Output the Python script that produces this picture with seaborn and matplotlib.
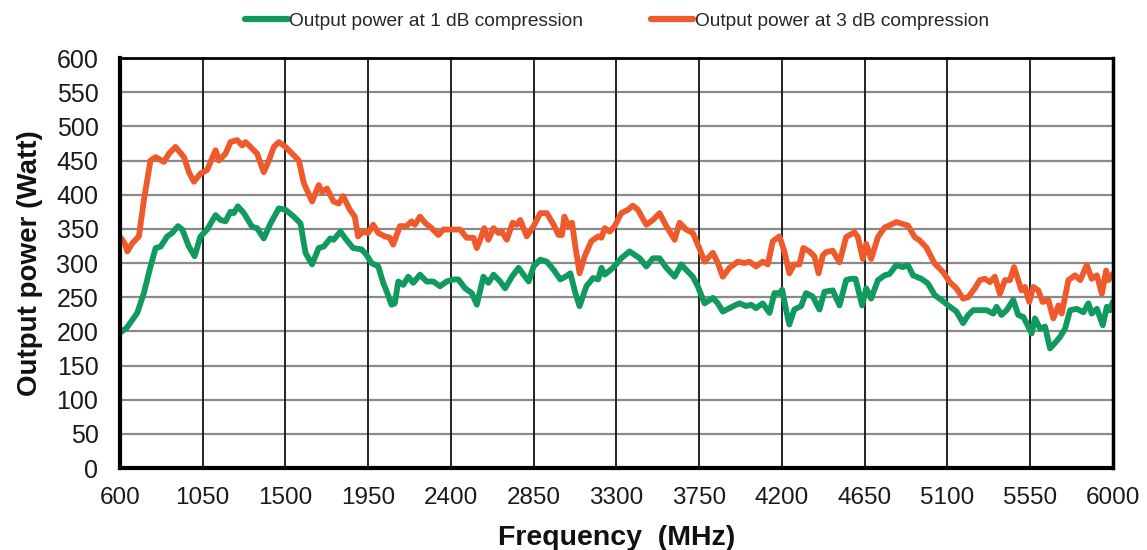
import matplotlib
matplotlib.use("Agg")
import matplotlib.pyplot as plt
from matplotlib.lines import Line2D
import seaborn as sns
import pandas as pd

freq_1db = [600, 636, 694, 730, 766, 794, 821, 857, 884, 915, 939, 975, 1006, 1038, 1074, 1120, 1147, 1174,
            1201, 1219, 1241, 1274, 1319, 1346, 1382, 1419, 1464, 1500, 1545, 1582, 1609, 1645, 1681, 1708,
            1744, 1762, 1799, 1832, 1868, 1914, 1941, 1968, 2005, 2032, 2050, 2077, 2095, 2114, 2141, 2168,
            2195, 2232, 2268, 2304, 2341, 2377, 2414, 2441, 2477, 2514, 2541, 2577, 2604, 2632, 2668, 2695,
            2732, 2768, 2795, 2823, 2850, 2886, 2922, 2959, 2995, 3023, 3050, 3077, 3100, 3137, 3173, 3201,
            3219, 3237, 3282, 3327, 3372, 3400, 3427, 3463, 3499, 3535, 3572, 3617, 3653, 3680, 3716, 3743,
            3780, 3825, 3852, 3879, 3915, 3952, 3970, 4006, 4033, 4060, 4096, 4133, 4160, 4187, 4202, 4223,
            4241, 4268, 4305, 4332, 4368, 4405, 4432, 4477, 4514, 4550, 4577, 4601, 4637, 4659, 4686, 4723,
            4759, 4786, 4823, 4859, 4886, 4914, 4959, 4995, 5032, 5068, 5105, 5150, 5186, 5214, 5241, 5277,
            5314, 5350, 5368, 5395, 5423, 5459, 5486, 5514, 5541, 5559, 5577, 5605, 5632, 5659, 5686, 5714,
            5741, 5768, 5805, 5841, 5868, 5886, 5914, 5946, 5968, 5986, 6000]
power_1db = [198, 205, 227, 256, 295, 322, 324, 339, 344, 354, 349, 324, 310, 339, 349, 370, 363, 361,
             375, 373, 383, 373, 353, 351, 336, 358, 380, 378, 368, 358, 315, 298, 322, 324,
             336, 334, 346, 334, 322, 320, 312, 300, 295, 271, 259, 239, 241, 273, 268, 280,
             271, 283, 273, 273, 266, 273, 276, 276, 263, 256, 239, 280, 271, 283, 273, 263,
             280, 293, 283, 273, 295, 305, 302, 290, 276, 280, 285, 256, 237, 266, 278, 276,
             293, 283, 293, 307, 317, 312, 307, 295, 307, 307, 293, 280, 298, 290, 280, 266,
             241, 249, 241, 229, 234, 239, 241, 237, 239, 234, 241, 227, 256, 256, 261, 232,
             210, 232, 237, 256, 251, 232, 258, 260, 238, 275, 277, 277, 238, 263, 248, 275,
             282, 284, 297, 294, 297, 282, 277, 270, 253, 246, 238, 229, 212, 224, 231, 231,
             231, 226, 236, 224, 231, 246, 224, 221, 207, 197, 219, 204, 207, 175, 183, 192,
             204, 231, 233, 228, 241, 226, 233, 209, 236, 231, 243]

freq_3db = [600, 607, 625, 640, 667, 703, 730, 766, 794, 839, 866, 902, 948, 975, 1002, 1038, 1074, 1120,
            1138, 1174, 1201, 1237, 1265, 1283, 1310, 1346, 1382, 1410, 1437, 1464, 1500, 1537, 1573, 1600,
            1645, 1681, 1699, 1726, 1762, 1790, 1814, 1850, 1877, 1895, 1923, 1950, 1977, 2005, 2041, 2068,
            2086, 2123, 2159, 2186, 2204, 2232, 2259, 2295, 2332, 2359, 2405, 2450, 2486, 2523, 2541, 2559,
            2581, 2604, 2632, 2659, 2677, 2704, 2736, 2759, 2777, 2813, 2850, 2886, 2922, 2959, 2986, 3004,
            3017, 3041, 3059, 3077, 3100, 3128, 3164, 3201, 3219, 3237, 3264, 3291, 3327, 3363, 3390, 3417,
            3463, 3499, 3535, 3572, 3617, 3644, 3680, 3716, 3754, 3780, 3825, 3852, 3879, 3915, 3961, 3997,
            4024, 4060, 4096, 4124, 4151, 4187, 4214, 4241, 4268, 4296, 4317, 4350, 4377, 4400, 4423, 4441,
            4477, 4514, 4550, 4595, 4614, 4641, 4659, 4686, 4723, 4759, 4786, 4823, 4859, 4886, 4923, 4950,
            4986, 5032, 5077, 5114, 5150, 5186, 5214, 5250, 5277, 5305, 5332, 5359, 5386, 5414, 5441, 5463,
            5486, 5504, 5523, 5546, 5568, 5595, 5619, 5650, 5677, 5705, 5723, 5759, 5795, 5823, 5859, 5886,
            5914, 5941, 5964, 5977, 6000]
power_3db = [338, 336, 329, 317, 329, 339, 392, 450, 455, 448, 460, 470, 455, 433, 419, 431, 436, 465,
             450, 460, 477, 480, 472, 477, 470, 460, 433, 450, 470, 477, 470, 460, 450, 417,
             390, 414, 404, 409, 390, 387, 398, 378, 368, 339, 346, 344, 356, 344, 339, 337,
             327, 354, 354, 361, 356, 368, 359, 351, 341, 349, 349, 349, 337, 337, 322, 334,
             351, 334, 351, 344, 346, 334, 359, 356, 363, 339, 354, 373, 373, 356, 341, 341,
             368, 354, 359, 324, 285, 310, 332, 339, 337, 351, 346, 354, 373, 378, 384, 378,
             356, 363, 373, 354, 334, 359, 349, 344, 320, 302, 315, 300, 280, 293, 302, 300,
             302, 295, 302, 298, 332, 339, 317, 285, 298, 298, 322, 317, 310, 285, 311, 316,
             318, 301, 338, 345, 338, 306, 328, 306, 338, 352, 355, 360, 357, 355, 338, 333,
             323, 299, 287, 272, 263, 248, 250, 263, 275, 277, 272, 280, 255, 275, 275, 294,
             275, 260, 265, 243, 265, 260, 243, 246, 219, 238, 226, 275, 282, 275, 297, 277,
             282, 255, 289, 275, 284]

label_1db = "Output power at 1 dB compression"
label_3db = "Output power at 3 dB compression"
x_ticks = [600, 1050, 1500, 1950, 2400, 2850, 3300, 3750, 4200, 4650, 5100, 5550, 6000]
y_ticks = list(range(0, 601, 50))

df = pd.concat([
    pd.DataFrame({"Frequency": freq_1db, "Power": power_1db, "Series": label_1db}),
    pd.DataFrame({"Frequency": freq_3db, "Power": power_3db, "Series": label_3db}),
], ignore_index=True)

sns.set_style("white")
plt.rcParams["font.family"] = ["Liberation Sans", "DejaVu Sans"]

fig = plt.figure(figsize=(11.47, 5.5), dpi=100)
ax = fig.add_axes([0.1046, 0.149, 0.8655, 0.7455])

palette = {label_1db: "#109a5e", label_3db: "#ee5a2b"}
sns.lineplot(data=df, x="Frequency", y="Power", hue="Series", palette=palette,
             linewidth=4.2, ax=ax, legend=False, sort=True, estimator=None)

ax.set_xlim(600, 6000)
ax.set_ylim(0, 600)
ax.set_xticks(x_ticks)
ax.set_yticks(y_ticks)
ax.set_xticklabels([str(t) for t in x_ticks], fontsize=17.5, color="#1a1a1a")
ax.set_yticklabels([str(t) for t in y_ticks], fontsize=18, color="#1a1a1a")
ax.tick_params(axis="both", direction="out", length=5.5, width=1.5, color="#222222")
ax.tick_params(axis="x", pad=8)
ax.tick_params(axis="y", pad=10)

for y in y_ticks[1:]:
    ax.axhline(y, color="#8a8a8a", linewidth=1.6, zorder=0)
for x in x_ticks[1:-1]:
    ax.axvline(x, color="#222222", linewidth=1.4, zorder=0)

for side, sp in ax.spines.items():
    sp.set_visible(True)
    sp.set_color("black")
ax.spines["left"].set_linewidth(3)
ax.spines["bottom"].set_linewidth(3)
ax.spines["right"].set_linewidth(2.5)
ax.spines["top"].set_linewidth(2)

ax.set_xlabel("Frequency  (MHz)", fontsize=20.5, fontweight="bold", labelpad=12, color="#111111")
ax.set_ylabel("Output power (Watt)", fontsize=20, fontweight="bold", labelpad=10, color="#111111")

handles = [Line2D([0], [0], color=palette[label_1db], lw=4.5),
           Line2D([0], [0], color=palette[label_3db], lw=4.5)]
fig.legend(handles, [label_1db, label_3db], loc="center", bbox_to_anchor=(0.538, 0.962),
           ncol=2, frameon=False, fontsize=13.8, handlelength=2.2, handletextpad=0.1,
           columnspacing=3.5)

fig.savefig("out.png", dpi=100)
